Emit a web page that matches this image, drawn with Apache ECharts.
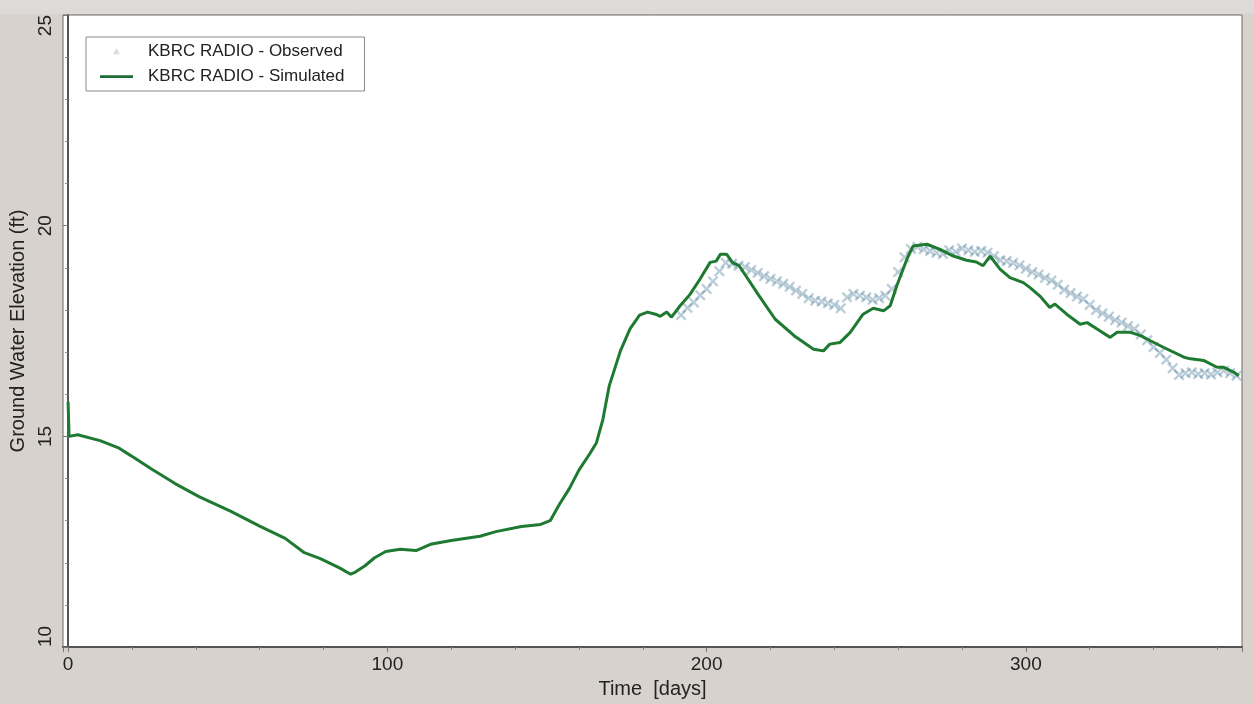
<!DOCTYPE html>
<html>
<head>
<meta charset="utf-8">
<title>KBRC RADIO ground water elevation</title>
<script src="https://cdn.jsdelivr.net/npm/echarts@6/dist/echarts.min.js"></script>
<style>
  html, body { margin: 0; padding: 0; background: #d7d2cd; }
  #chart { width: 1254px; height: 704px; }
</style>
</head>
<body>
<div id="chart"></div>
<script>
// Simulated ground water elevation (ft) at well KBRC RADIO, by day of year
const simDays = [0, 0.3, 3, 10, 16, 19.5, 26, 33.5, 41, 51, 60, 68, 74, 79, 85, 88.5, 90, 93, 96, 99.5,
  104, 109, 113.5, 120, 129, 134, 142, 148, 151, 152.5, 154, 157, 160, 163.5, 165.5, 167.5, 169.5, 173, 176, 179,
  181.5, 184, 185.5, 187.5, 189, 191.7, 194.8, 197.9, 201.1, 203, 204.3, 206.3, 208.2, 210.2, 216.5, 221.5, 227.4, 233.5, 236.6, 238.6,
  241.8, 245, 249, 252.2, 255.4, 257.5, 259.6, 262.7, 264.7, 269, 273.1, 277.3, 281.4, 284.5, 286.6, 288.8, 291.9, 295, 299.2, 301.3,
  304.4, 307.5, 309.1, 312.8, 317, 319.2, 322.3, 326.4, 328.6, 332.8, 335.9, 339, 343.2, 349.5, 351.6, 355.8, 359.9, 362, 365.2, 366.7];
const simLevels = [15.82, 15.0, 15.04, 14.9, 14.72, 14.55, 14.23, 13.88, 13.57, 13.22, 12.87, 12.58, 12.24, 12.1, 11.88, 11.73, 11.78, 11.93, 12.12, 12.27,
  12.32, 12.29, 12.44, 12.53, 12.63, 12.74, 12.86, 12.91, 13.0, 13.2, 13.4, 13.76, 14.2, 14.6, 14.85, 15.4, 16.2, 17.03, 17.55, 17.88,
  17.95, 17.9, 17.85, 17.95, 17.83, 18.1, 18.37, 18.73, 19.13, 19.16, 19.32, 19.32, 19.12, 19.05, 18.33, 17.78, 17.39, 17.07, 17.03, 17.19,
  17.23, 17.47, 17.9, 18.04, 17.98, 18.1, 18.58, 19.2, 19.52, 19.56, 19.44, 19.28, 19.18, 19.14, 19.05, 19.28, 18.97, 18.77, 18.65, 18.53,
  18.33, 18.06, 18.14, 17.9, 17.66, 17.7, 17.55, 17.35, 17.47, 17.47, 17.39, 17.27, 17.11, 16.88, 16.84, 16.8, 16.64, 16.64, 16.52, 16.44];

// Observed ground water elevation (ft), every second day
const obsDays = [192, 194, 196, 198, 200, 202, 204, 206, 208, 210, 212, 214, 216, 218, 220, 222, 224, 226, 228, 230,
  232, 234, 236, 238, 240, 242, 244, 246, 248, 250, 252, 254, 256, 258, 260, 262, 264, 266, 268, 270,
  272, 274, 276, 278, 280, 282, 284, 286, 288, 290, 292, 294, 296, 298, 300, 302, 304, 306, 308, 310,
  312, 314, 316, 318, 320, 322, 324, 326, 328, 330, 332, 334, 336, 338, 340, 342, 344, 346, 348, 350,
  352, 354, 356, 358, 360, 362, 364, 366];
const obsLevels = [17.88, 18.05, 18.18, 18.35, 18.5, 18.68, 18.92, 19.12, 19.1, 19.05, 19.02, 18.95, 18.88, 18.8, 18.74, 18.68, 18.62, 18.55, 18.46, 18.38,
  18.28, 18.22, 18.2, 18.16, 18.12, 18.04, 18.3, 18.38, 18.34, 18.3, 18.24, 18.28, 18.34, 18.5, 18.9, 19.25, 19.45, 19.5, 19.44, 19.4,
  19.36, 19.33, 19.42, 19.38, 19.46, 19.42, 19.38, 19.4, 19.36, 19.28, 19.18, 19.16, 19.12, 19.06, 18.98, 18.9, 18.84, 18.76, 18.7, 18.6,
  18.48, 18.4, 18.32, 18.26, 18.12, 18.0, 17.92, 17.84, 17.76, 17.7, 17.62, 17.55, 17.42, 17.28, 17.12, 16.98, 16.82, 16.62, 16.46, 16.5,
  16.52, 16.48, 16.5, 16.47, 16.52, 16.56, 16.5, 16.44];

const obsName = 'KBRC RADIO - Observed';
const simName = 'KBRC RADIO - Simulated';

const FONT = '"Liberation Sans", Arial, sans-serif';
// X-shaped marker for observations
const crossPath = 'path://M0,1.5 L1.5,0 L5,3.5 L8.5,0 L10,1.5 L6.5,5 L10,8.5 L8.5,10 L5,6.5 L1.5,10 L0,8.5 L3.5,5 Z';
const smallTriangle = 'path://M0,0 M20,20 M10,5 L15,14 L5,14 Z';
const lineIcon = 'path://M0,0 M33,14 M0,5.8 L33,5.8 L33,8.4 L0,8.4 Z';

const chart = echarts.init(document.getElementById('chart'), null, { renderer: 'canvas' });

chart.setOption({
  backgroundColor: '#d7d2cd',
  animation: false,
  textStyle: { fontFamily: FONT },
  graphic: [
    { type: 'rect', left: 0, top: 0, shape: { width: 1254, height: 14 }, style: { fill: '#dddbd7' }, z: -10, silent: true }
  ],
  grid: {
    left: 63, right: 12, top: 15, bottom: 55,
    show: true, backgroundColor: '#ffffff', borderColor: '#6a6a6a', borderWidth: 1
  },
  legend: {
    orient: 'vertical',
    left: 86, top: 37,
    padding: [6, 20, 6, 14],
    itemWidth: 33, itemHeight: 14, itemGap: 8,
    backgroundColor: '#ffffff',
    borderColor: '#8a8a8a', borderWidth: 1, borderRadius: 0,
    textStyle: { fontFamily: FONT, fontSize: 17, color: '#222222', padding: [0, 0, 0, 10] },
    data: [
      { name: obsName, icon: smallTriangle, itemStyle: { color: '#cdd5dc' } },
      { name: simName, icon: lineIcon, itemStyle: { color: '#1d6b35' } }
    ]
  },
  xAxis: {
    type: 'value',
    min: -1.6, max: 367.7,
    splitNumber: 4,
    name: 'Time  [days]',
    nameLocation: 'middle',
    nameGap: 30,
    nameTextStyle: { fontFamily: FONT, fontSize: 20, color: '#222222' },
    axisLine: { show: true, lineStyle: { color: '#555555', width: 2 } },
    axisTick: { show: true, length: 5, lineStyle: { color: '#777777' } },
    minorTick: { show: true, splitNumber: 5, length: 3, lineStyle: { color: '#888888' } },
    splitLine: { show: false },
    axisLabel: {
      fontFamily: FONT, fontSize: 19, color: '#222222', margin: 8,
      formatter: v => (Math.abs(v % 100) < 1e-6 ? String(v) : '')
    }
  },
  yAxis: {
    type: 'value',
    min: 10, max: 25, interval: 5,
    name: 'Ground Water Elevation (ft)',
    nameLocation: 'middle',
    nameGap: 27,
    nameTextStyle: { fontFamily: FONT, fontSize: 20, color: '#222222' },
    axisLine: { show: true, lineStyle: { color: '#555555', width: 2 } },
    axisTick: { show: true, length: 5, lineStyle: { color: '#777777' } },
    minorTick: { show: true, splitNumber: 5, length: 3, lineStyle: { color: '#888888' } },
    splitLine: { show: false },
    axisLabel: {
      fontFamily: FONT, fontSize: 19, color: '#222222', margin: 8,
      rotate: 90,
      alignMinLabel: 'left', alignMaxLabel: 'right'
    }
  },
  series: [
    {
      name: obsName,
      type: 'scatter',
      symbol: crossPath,
      symbolSize: 11,
      itemStyle: { color: 'rgba(98,142,166,0.55)' },
      data: obsDays.map((d, i) => [d, obsLevels[i]]),
      z: 2
    },
    {
      name: simName,
      type: 'line',
      showSymbol: false,
      symbol: 'none',
      lineStyle: { color: '#1d7a30', width: 3 },
      itemStyle: { color: '#1d7a30' },
      data: simDays.map((d, i) => [d, simLevels[i]]),
      z: 3
    }
  ]
});
</script>
</body>
</html>
